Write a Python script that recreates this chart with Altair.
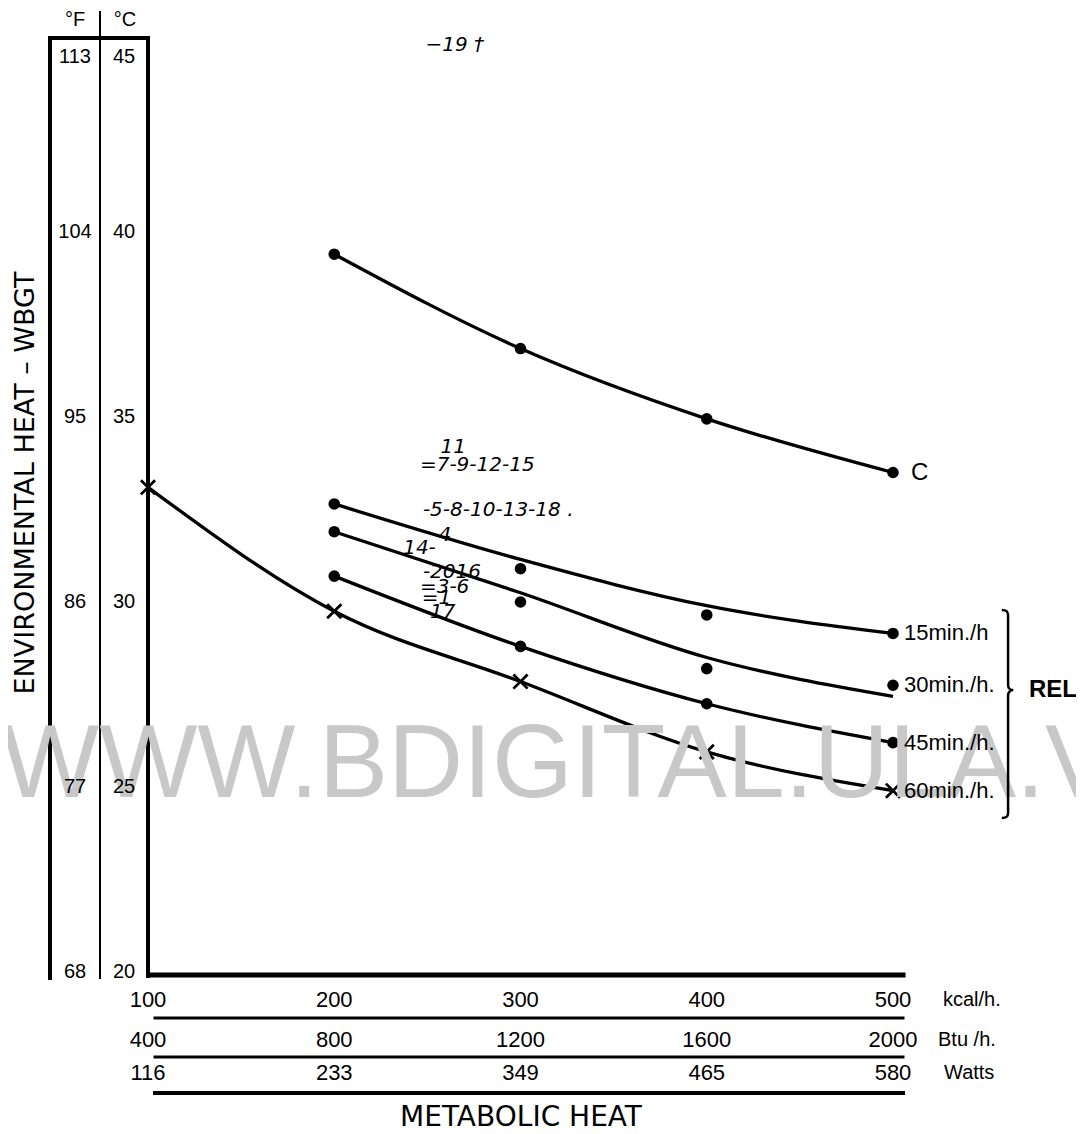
import altair as alt
import pandas as pd

# ---------------- data ----------------
kcal_ticks = [100, 200, 300, 400, 500]
btu_labels = ["400", "800", "1200", "1600", "2000"]
watt_labels = ["116", "233", "349", "465", "580"]
celsius_ticks = [45, 40, 35, 30, 25, 20]
fahrenheit_labels = ["113", "104", "95", "86", "77", "68"]

x_dots = [200, 300, 400, 500]
c_values = [39.4, 36.85, 34.95, 33.5]
rel15_dots = [32.65, 30.9, 29.65, 29.15]
rel15_curve = [32.65, 31.15, 29.9, 29.15]
rel30_dots = [31.9, 30.0, 28.2, 27.75]
rel30_curve = [31.9, 30.25, 28.5, 27.45]
rel45_values = [30.7, 28.8, 27.25, 26.2]
x_cross = [100, 200, 300, 400, 500]
rel60_values = [33.1, 29.75, 27.85, 25.95, 24.9]

series_names = ["C", "15min./h", "30min./h.", "45min./h.", "60min./h."]
series_end = [33.5, 29.15, 27.75, 26.2, 24.9]

notes_text = ["−19 †", "11", "=7-9-12-15", "-5-8-10-13-18 .", "4", "14-",
              "-2016", "=3-6", "=1", "-17"]
notes_x = [249, 257, 246, 247.6, 256, 237, 247.6, 246, 247, 247.6]
notes_t = [45.05, 34.19, 33.70, 32.49, 31.81, 31.46, 30.81, 30.41, 30.11, 29.73]

# ---------------- tables ----------------
curve_rows = []
for name, xs_, ys_ in [("C", x_dots, c_values), ("15", x_dots, rel15_curve),
                       ("30", x_dots, rel30_curve), ("45", x_dots, rel45_values),
                       ("60", x_cross, rel60_values)]:
    for a, b in zip(xs_, ys_):
        curve_rows.append({"series": name, "x": a, "t": b})
curves = pd.DataFrame(curve_rows)

dot_rows = []
for name, ys_ in [("C", c_values), ("15", rel15_dots), ("30", rel30_dots), ("45", rel45_values)]:
    for a, b in zip(x_dots, ys_):
        dot_rows.append({"series": name, "x": a, "t": b})
dots = pd.DataFrame(dot_rows)
crosses = pd.DataFrame({"x": x_cross, "t": rel60_values})

labels_df = pd.DataFrame({"label": series_names, "x": [500] * 5, "t": series_end})
notes_df = pd.DataFrame({"text": notes_text, "x": notes_x, "t": notes_t})
ytick_df = pd.DataFrame({"t": celsius_ticks, "c": [str(v) for v in celsius_ticks],
                         "f": fahrenheit_labels})
xtick_df = pd.DataFrame({"x": kcal_ticks, "kcal": [str(v) for v in kcal_ticks],
                         "btu": btu_labels, "watt": watt_labels})

W, H = 745, 925
xs = alt.Scale(domain=[100, 500], nice=False, zero=False)
ys = alt.Scale(domain=[20, 45], nice=False, zero=False)
X = alt.X("x:Q", scale=xs, axis=None)
Y = alt.Y("t:Q", scale=ys, axis=None)
one = pd.DataFrame({"k": [0]})
FONT = "Liberation Sans"


def rule(x1, y1, x2, y2, w):
    return alt.Chart(one).mark_rule(color="black", strokeWidth=w, strokeCap="square").encode(
        x=alt.value(x1), y=alt.value(y1), x2=alt.value(x2), y2=alt.value(y2))


def ptext(txt, x, y, size, align="left", angle=0, font=FONT, color="black", baseline="middle",
          weight="normal"):
    return alt.Chart(one).mark_text(text=txt, fontSize=size, align=align, angle=angle, font=font,
                                    color=color, baseline=baseline, fontWeight=weight).encode(
        x=alt.value(x), y=alt.value(y))


# curves (the y axis only supplies small 1 °C ticks pointing left)
lines = alt.Chart(curves).mark_line(interpolate="monotone", color="black", strokeWidth=3.3).encode(
    x=X,
    y=alt.Y("t:Q", scale=ys, axis=alt.Axis(values=list(range(20, 46)), labels=False, domain=False,
                                           grid=False, ticks=True, tickSize=5, tickWidth=1.5,
                                           tickColor="black", title=None)),
    detail="series:N")

dot_layer = alt.Chart(dots).mark_point(shape="circle", filled=True, size=135, color="black",
                                        opacity=1).encode(x=X, y=Y)
cross_layer = alt.Chart(crosses).mark_point(shape="M-1,-1L1,1M-1,1L1,-1", filled=False, size=200,
                                            color="black", strokeWidth=2.8, opacity=1).encode(x=X, y=Y)

series_text = alt.Chart(labels_df).transform_filter("datum.label != 'C'").mark_text(
    align="left", baseline="middle", dx=11, fontSize=22, font=FONT, color="black").encode(
    x=X, y=Y, text="label:N")
c_text = alt.Chart(labels_df).transform_filter("datum.label == 'C'").mark_text(
    align="left", baseline="middle", dx=18, fontSize=24, font=FONT, color="black").encode(
    x=X, y=Y, text="label:N")

notes = alt.Chart(notes_df).mark_text(align="left", baseline="middle", fontSize=20,
                                      font="DejaVu Sans", fontStyle="italic", color="black").encode(
    x=X, y=Y, text="text:N")

# left temperature columns
c_labels = alt.Chart(ytick_df).transform_filter("datum.t < 45").mark_text(
    align="center", baseline="middle", fontSize=20, font=FONT, color="black").encode(
    x=alt.value(-24), y=Y, text="c:N")
f_labels = alt.Chart(ytick_df).transform_filter("datum.t < 45").mark_text(
    align="center", baseline="middle", fontSize=20, font=FONT, color="black").encode(
    x=alt.value(-73), y=Y, text="f:N")
c_top = alt.Chart(ytick_df).transform_filter("datum.t == 45").mark_text(
    align="center", baseline="middle", dy=10, fontSize=20, font=FONT, color="black").encode(
    x=alt.value(-24), y=Y, text="c:N")
f_top = alt.Chart(ytick_df).transform_filter("datum.t == 45").mark_text(
    align="center", baseline="middle", dy=10, fontSize=20, font=FONT, color="black").encode(
    x=alt.value(-73), y=Y, text="f:N")


# bottom scales
def xrow(field, ypix):
    return alt.Chart(xtick_df).mark_text(align="center", baseline="middle", fontSize=22, font=FONT,
                                         color="black").encode(x=X, y=alt.value(ypix), text=f"{field}:N")


kcal_row = xrow("kcal", 953)
btu_row = xrow("btu", 993)
watt_row = xrow("watt", 1026)

frame = [
    rule(-98, -9, -98, 931, 4),
    rule(-48, -35, -48, 931, 2),
    rule(0, -9, 0, 929, 4),
    rule(-98, -9, 0, -9, 4),
    rule(2, 928, 755, 928, 5),
    rule(7, 971, 755, 971, 3),
    rule(7, 1010, 755, 1010, 3),
    rule(7, 1046, 755, 1046, 4),
]

texts = [
    ptext("°F", -73, -27, 20, align="center"),
    ptext("°C", -23, -27, 20, align="center"),
    ptext("ENVIRONMENTAL HEAT – WBGT", -122, 436, 27, align="center", angle=270, font="DejaVu Sans"),
    ptext("METABOLIC HEAT", 373, 1071, 28, align="center", font="DejaVu Sans"),
    ptext("kcal/h.", 795, 953, 20),
    ptext("Btu /h.", 790, 993, 20),
    ptext("Watts", 796, 1026, 20),
    ptext("REL", 881, 643, 24, weight="bold"),
]

brace = alt.Chart(one).mark_point(
    shape="M-0.04,-1C0.0,-1,0.02,-0.99,0.02,-0.95L0.02,-0.28C0.02,-0.25,0.04,-0.23,0.07,-0.23"
          "C0.04,-0.23,0.02,-0.21,0.02,-0.18L0.02,0.95C0.02,0.99,0.0,1,-0.04,1",
    filled=False, size=208 * 208, color="black", strokeWidth=2.5, opacity=1).encode(
    x=alt.value(858), y=alt.value(667))

watermark = ptext("WWW.BDIGITAL.ULA.VE", -147, 750, 104, color="#c8c8c8", baseline="alphabetic")

chart = alt.layer(
    lines, dot_layer, cross_layer, *frame, watermark, series_text, c_text, notes,
    c_labels, f_labels, c_top, f_top, kcal_row, btu_row, watt_row, *texts, brace
).properties(
    width=W, height=H,
    autosize=alt.AutoSizeParams(type="none"),
    padding={"left": 140, "top": 39, "right": 183, "bottom": 160},
    background="white",
).configure_view(stroke=None)

chart.save("out.html", embed_options={"renderer": "svg", "actions": False})
